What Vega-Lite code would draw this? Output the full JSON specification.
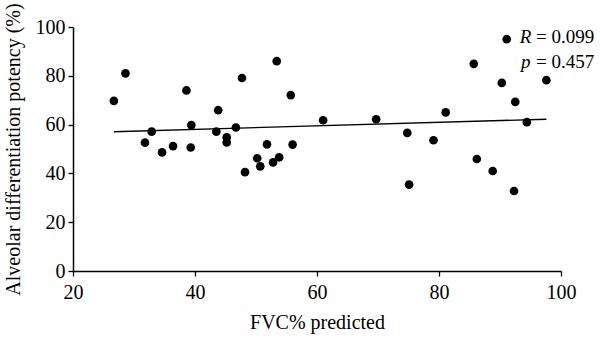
{
  "$schema": "https://vega.github.io/schema/vega-lite/v6.json",
  "width": 488,
  "height": 244,
  "autosize": "none",
  "padding": {"left": 73, "top": 27, "right": 39, "bottom": 67},
  "background": "white",
  "config": {
    "view": {"stroke": null},
    "font": "Liberation Serif",
    "axis": {
      "grid": false,
      "domainColor": "black",
      "domainWidth": 1.5,
      "tickColor": "black",
      "tickWidth": 1.3,
      "tickSize": 5,
      "labelFont": "Liberation Serif",
      "labelFontSize": 20,
      "labelColor": "black",
      "labelFlush": false,
      "titleFont": "Liberation Serif",
      "titleFontSize": 20,
      "titleFontWeight": "normal",
      "titleColor": "black"
    }
  },
  "datasets": {
    "points": [
      {"fvc": 26.7, "adp": 69.7},
      {"fvc": 28.6, "adp": 81.0},
      {"fvc": 31.8, "adp": 52.6},
      {"fvc": 32.9, "adp": 57.1},
      {"fvc": 34.6, "adp": 48.6},
      {"fvc": 36.4, "adp": 51.2},
      {"fvc": 38.6, "adp": 74.0},
      {"fvc": 39.4, "adp": 59.8},
      {"fvc": 39.3, "adp": 50.6},
      {"fvc": 43.8, "adp": 65.9},
      {"fvc": 43.5, "adp": 57.1},
      {"fvc": 45.2, "adp": 54.8},
      {"fvc": 45.2, "adp": 52.7},
      {"fvc": 46.7, "adp": 58.8},
      {"fvc": 47.7, "adp": 79.1},
      {"fvc": 48.2, "adp": 40.5},
      {"fvc": 50.2, "adp": 46.2},
      {"fvc": 50.7, "adp": 42.9},
      {"fvc": 51.8, "adp": 51.9},
      {"fvc": 52.8, "adp": 44.5},
      {"fvc": 53.4, "adp": 86.0},
      {"fvc": 53.8, "adp": 46.6},
      {"fvc": 55.7, "adp": 72.1},
      {"fvc": 56.0, "adp": 51.8},
      {"fvc": 61.0, "adp": 61.8},
      {"fvc": 69.7, "adp": 62.2},
      {"fvc": 74.8, "adp": 56.6},
      {"fvc": 75.1, "adp": 35.4},
      {"fvc": 79.1, "adp": 53.6},
      {"fvc": 81.1, "adp": 65.0},
      {"fvc": 85.7, "adp": 84.9},
      {"fvc": 86.2, "adp": 45.9},
      {"fvc": 88.8, "adp": 41.0},
      {"fvc": 90.3, "adp": 77.1},
      {"fvc": 91.1, "adp": 95.0},
      {"fvc": 92.3, "adp": 32.8},
      {"fvc": 92.5, "adp": 69.3},
      {"fvc": 94.4, "adp": 61.0},
      {"fvc": 97.6, "adp": 78.2}
    ],
    "fit": [
      {"fvc": 26.7, "adp": 57.1},
      {"fvc": 97.6, "adp": 62.2}
    ]
  },
  "layer": [
    {
      "data": {"name": "fit"},
      "mark": {"type": "line", "color": "black", "strokeWidth": 1.4},
      "encoding": {
        "x": {"field": "fvc", "type": "quantitative", "scale": {"domain": [20, 100], "nice": false, "zero": false},
              "axis": {"values": [20, 40, 60, 80, 100], "title": "FVC% predicted", "labelFont": "Liberation Serif", "labelFlush": false, "labelPadding": 6, "titlePadding": 10}},
        "y": {"field": "adp", "type": "quantitative", "scale": {"domain": [0, 100], "nice": false},
              "axis": {"values": [0, 20, 40, 60, 80, 100], "title": "Alveolar differentiation potency (%)", "labelFont": "Liberation Serif", "labelFlush": false, "labelPadding": 3, "titlePadding": 12}}
      }
    },
    {
      "data": {"name": "points"},
      "mark": {"type": "point", "filled": true, "color": "black", "opacity": 1, "size": 75},
      "encoding": {
        "x": {"field": "fvc", "type": "quantitative"},
        "y": {"field": "adp", "type": "quantitative"}
      }
    },
    {
      "data": {"values": [{}]},
      "mark": {"type": "text", "text": "R", "fontStyle": "italic", "fontSize": 19, "align": "left", "baseline": "alphabetic", "color": "black", "font": "Liberation Serif"},
      "encoding": {"x": {"datum": 93.25}, "y": {"datum": 93.4}}
    },
    {
      "data": {"values": [{}]},
      "mark": {"type": "text", "text": "= 0.099", "fontSize": 19, "align": "left", "baseline": "alphabetic", "color": "black", "font": "Liberation Serif"},
      "encoding": {"x": {"datum": 95.9}, "y": {"datum": 93.4}}
    },
    {
      "data": {"values": [{}]},
      "mark": {"type": "text", "text": "p", "fontStyle": "italic", "fontSize": 19, "align": "left", "baseline": "alphabetic", "color": "black", "font": "Liberation Serif"},
      "encoding": {"x": {"datum": 93.45}, "y": {"datum": 83.2}}
    },
    {
      "data": {"values": [{}]},
      "mark": {"type": "text", "text": "= 0.457", "fontSize": 19, "align": "left", "baseline": "alphabetic", "color": "black", "font": "Liberation Serif"},
      "encoding": {"x": {"datum": 95.9}, "y": {"datum": 83.2}}
    }
  ]
}
